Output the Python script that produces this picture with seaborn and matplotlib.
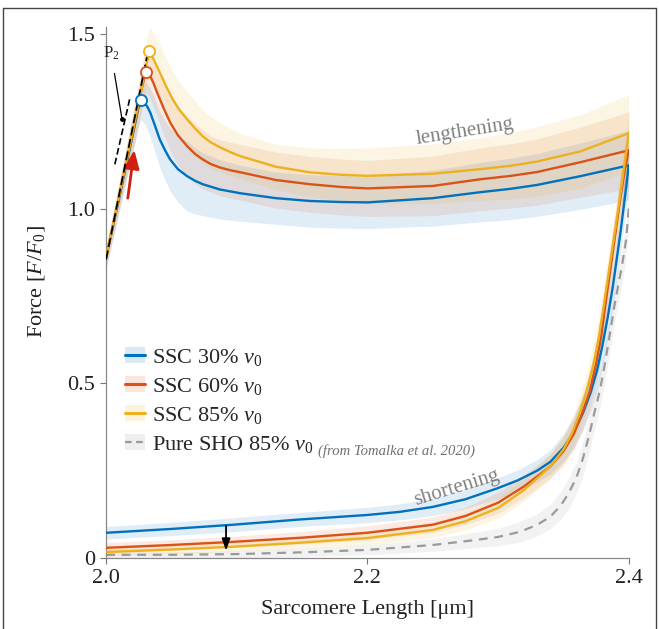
import numpy as np
import pandas as pd
import seaborn as sns
import matplotlib
matplotlib.use('Agg')
import matplotlib.pyplot as plt
from matplotlib.lines import Line2D
from matplotlib.patches import Patch

# ---- lengthening phase (sarcomere length, force) ----
blue_len_x = [2.000, 2.010, 2.018, 2.022, 2.0245, 2.0265, 2.029, 2.0315, 2.0337, 2.037, 2.041, 2.045, 2.049, 2.055, 2.062,
              2.068, 2.074, 2.087, 2.103, 2.130, 2.156, 2.180, 2.200, 2.250, 2.286, 2.310, 2.330, 2.363, 2.400]
blue_len_y = [0.86, 1.03, 1.17, 1.24, 1.285, 1.31, 1.305, 1.292, 1.276, 1.242, 1.199, 1.168, 1.141, 1.113, 1.093,
              1.080, 1.070, 1.055, 1.044, 1.030, 1.022, 1.019, 1.018, 1.030, 1.047, 1.057, 1.068, 1.093, 1.124]
blue_len_sd = [0.03, 0.04, 0.05, 0.055, 0.055, 0.055, 0.06, 0.065, 0.07, 0.075, 0.08, 0.085, 0.09, 0.095, 0.10,
               0.095, 0.09, 0.085, 0.08, 0.075, 0.075, 0.075, 0.075, 0.08, 0.085, 0.088, 0.09, 0.095, 0.10]

orange_len_x = [2.000, 2.010, 2.018, 2.024, 2.027, 2.0304, 2.033, 2.036, 2.039, 2.044, 2.049, 2.055, 2.062, 2.068, 2.074,
                2.080, 2.087, 2.095, 2.103, 2.130, 2.156, 2.180, 2.200, 2.250, 2.286, 2.310, 2.330, 2.363, 2.400]
orange_len_y = [0.86, 1.035, 1.175, 1.28, 1.34, 1.392, 1.385, 1.362, 1.333, 1.288, 1.247, 1.210, 1.179, 1.157, 1.141,
                1.128, 1.118, 1.110, 1.104, 1.082, 1.070, 1.062, 1.058, 1.065, 1.084, 1.094, 1.105, 1.133, 1.167]
orange_len_sd = [0.03, 0.04, 0.05, 0.055, 0.06, 0.06, 0.065, 0.07, 0.07, 0.075, 0.08, 0.085, 0.085, 0.085, 0.085,
                 0.08, 0.08, 0.08, 0.08, 0.08, 0.08, 0.08, 0.08, 0.085, 0.09, 0.092, 0.095, 0.10, 0.11]

yellow_len_x = [2.000, 2.010, 2.018, 2.026, 2.030, 2.0331, 2.036, 2.041, 2.046, 2.051, 2.056, 2.062, 2.068, 2.074,
                2.080, 2.087, 2.095, 2.103, 2.130, 2.156, 2.180, 2.200, 2.250, 2.286, 2.310, 2.330, 2.363, 2.400]
yellow_len_y = [0.86, 1.038, 1.18, 1.323, 1.40, 1.450, 1.430, 1.391, 1.350, 1.313, 1.283, 1.256, 1.230, 1.207,
                1.190, 1.176, 1.162, 1.150, 1.120, 1.104, 1.097, 1.094, 1.100, 1.113, 1.123, 1.135, 1.164, 1.216]
yellow_len_sd = [0.03, 0.04, 0.05, 0.06, 0.065, 0.07, 0.075, 0.08, 0.08, 0.08, 0.08, 0.08, 0.08, 0.075,
                 0.075, 0.07, 0.068, 0.065, 0.065, 0.07, 0.075, 0.08, 0.085, 0.09, 0.095, 0.10, 0.105, 0.11]

# ---- shortening phase ----
blue_sh_x = [2.000, 2.050, 2.097, 2.148, 2.200, 2.225, 2.250, 2.275, 2.300, 2.315, 2.330, 2.340, 2.350, 2.358, 2.365,
             2.371, 2.376, 2.380, 2.384, 2.388, 2.391, 2.394, 2.396, 2.398, 2.400]
blue_sh_y = [0.072, 0.083, 0.095, 0.110, 0.123, 0.132, 0.146, 0.168, 0.200, 0.222, 0.250, 0.275, 0.315, 0.360, 0.415,
             0.475, 0.540, 0.610, 0.690, 0.780, 0.860, 0.940, 1.000, 1.060, 1.124]
blue_sh_sd = [0.018, 0.019, 0.02, 0.02, 0.022, 0.023, 0.025, 0.027, 0.03, 0.03, 0.032, 0.035, 0.04, 0.045, 0.05,
              0.055, 0.06, 0.06, 0.06, 0.06, 0.06, 0.06, 0.06, 0.06, 0.06]

orange_sh_x = [2.000, 2.050, 2.097, 2.150, 2.200, 2.250, 2.275, 2.300, 2.320, 2.340, 2.350, 2.358, 2.364, 2.370,
               2.375, 2.379, 2.382, 2.385, 2.388, 2.391, 2.394, 2.397, 2.400]
orange_sh_y = [0.029, 0.037, 0.046, 0.058, 0.072, 0.095, 0.120, 0.158, 0.205, 0.262, 0.305, 0.355, 0.410, 0.475,
               0.555, 0.635, 0.720, 0.800, 0.880, 0.960, 1.040, 1.110, 1.167]
orange_sh_sd = [0.015, 0.015, 0.016, 0.018, 0.02, 0.022, 0.025, 0.03, 0.032, 0.035, 0.04, 0.045, 0.05, 0.055,
                0.06, 0.06, 0.06, 0.06, 0.06, 0.06, 0.06, 0.06, 0.06]

yellow_sh_x = [2.000, 2.050, 2.097, 2.150, 2.200, 2.250, 2.275, 2.300, 2.320, 2.340, 2.350, 2.357, 2.363, 2.368,
               2.373, 2.377, 2.380, 2.383, 2.386, 2.389, 2.392, 2.395, 2.398, 2.400]
yellow_sh_y = [0.017, 0.024, 0.032, 0.044, 0.057, 0.080, 0.105, 0.143, 0.195, 0.262, 0.310, 0.360, 0.420, 0.480,
               0.555, 0.630, 0.700, 0.775, 0.850, 0.925, 1.000, 1.080, 1.160, 1.216]
yellow_sh_sd = [0.012, 0.013, 0.014, 0.017, 0.02, 0.022, 0.025, 0.03, 0.032, 0.035, 0.04, 0.045, 0.05, 0.055,
                0.06, 0.06, 0.06, 0.06, 0.06, 0.06, 0.06, 0.06, 0.06, 0.06]

sho_x = [2.000, 2.050, 2.100, 2.150, 2.200, 2.250, 2.280, 2.300, 2.317, 2.330, 2.340, 2.348, 2.354, 2.360, 2.365,
         2.370, 2.374, 2.378, 2.382, 2.386, 2.389, 2.392, 2.395, 2.398, 2.400]
sho_y = [0.009, 0.009, 0.011, 0.016, 0.023, 0.037, 0.050, 0.060, 0.075, 0.095, 0.118, 0.150, 0.185, 0.230, 0.285,
         0.355, 0.420, 0.480, 0.560, 0.650, 0.720, 0.780, 0.840, 0.910, 1.000]
sho_sd = [0.008, 0.008, 0.01, 0.012, 0.014, 0.018, 0.022, 0.025, 0.03, 0.032, 0.035, 0.04, 0.045, 0.045, 0.05,
          0.05, 0.05, 0.05, 0.05, 0.05, 0.05, 0.05, 0.05, 0.05, 0.05]

labels = ['SSC 30% $v_\\mathit{0}$', 'SSC 60% $v_\\mathit{0}$', 'SSC 85% $v_\\mathit{0}$']
sho_label = 'Pure SHO 85% $v_\\mathit{0}$'
colors = ['#0072BD', '#D95319', '#EDB120']
sho_color = '#9a9a9a'

# annotation geometry (data units)
p2_main_x = [2.000, 2.0325]
p2_main_y = [0.855, 1.458]
p2_tan_x = [2.0067, 2.0180]
p2_tan_y = [1.127, 1.313]

sns.set_style('ticks')
plt.rcParams['font.family'] = ['Liberation Serif', 'DejaVu Serif']
plt.rcParams['mathtext.fontset'] = 'custom'
plt.rcParams['mathtext.rm'] = 'Liberation Serif'
plt.rcParams['mathtext.it'] = 'Liberation Serif:italic'

fig = plt.figure(figsize=(6.59, 6.29), dpi=100)
ax = fig.add_axes([0.161, 0.113, 0.793, 0.844])

series = [
    (blue_len_x, blue_len_y, blue_len_sd, blue_sh_x, blue_sh_y, blue_sh_sd),
    (orange_len_x, orange_len_y, orange_len_sd, orange_sh_x, orange_sh_y, orange_sh_sd),
    (yellow_len_x, yellow_len_y, yellow_len_sd, yellow_sh_x, yellow_sh_y, yellow_sh_sd),
]

# bands first
ax.fill_between(sho_x, np.array(sho_y) - sho_sd, np.array(sho_y) + sho_sd,
                color=sho_color, alpha=0.12, lw=0)
for (lx, ly, lsd, sx, sy, ssd), c in zip(series, colors):
    ly, lsd, sy, ssd = map(np.array, (ly, lsd, sy, ssd))
    ax.fill_between(lx, ly - lsd, ly + lsd, color=c, alpha=0.12, lw=0)
    ax.fill_between(sx, sy - ssd, sy + ssd, color=c, alpha=0.12, lw=0)

# dashed pure shortening
sns.lineplot(x=sho_x, y=sho_y, ax=ax, color=sho_color, lw=1.6, linestyle=(0, (4, 3)),
             sort=False, estimator=None, legend=False)

# P2 tangent (offset segment)
ax.plot(p2_tan_x, p2_tan_y, color='black', lw=1.2, ls=(0, (4, 2)), zorder=4)

for (lx, ly, lsd, sx, sy, ssd), c in zip(series, colors):
    df = pd.DataFrame({'x': list(lx) + list(sx[::-1]), 'y': list(ly) + list(sy[::-1])})
    sns.lineplot(data=df, x='x', y='y', ax=ax, color=c, lw=1.7, sort=False,
                 estimator=None, legend=False, zorder=3)

# P2 dashed line on top of the rise
ax.plot(p2_main_x, p2_main_y, color='black', lw=1.3, ls=(0, (5, 2)), zorder=5)

# peak markers
for (lx, ly, *_), c in zip(series, colors):
    i = int(np.argmax(ly))
    ax.plot(lx[i], ly[i], 'o', mfc='white', mec=c, ms=8, mew=1.3, zorder=6)

# P2 label
ax.annotate('P$_2$', xy=(2.0122, 1.256), xytext=(1.9975, 1.445),
            fontsize=12, ha='left', va='center', annotation_clip=False,
            arrowprops=dict(arrowstyle='-', color='black', lw=0.9,
                            shrinkA=6, shrinkB=0))
ax.plot(2.0122, 1.256, 'o', color='black', ms=2.5, zorder=6)

# red arrow
ax.annotate('', xy=(2.0216, 1.168), xytext=(2.0166, 1.030),
            arrowprops=dict(arrowstyle='-|>,head_length=1.1,head_width=0.45',
                            color='#d02010', lw=2.0, shrinkA=0, shrinkB=0))

# small black arrow
ax.annotate('', xy=(2.0918, 0.021), xytext=(2.0918, 0.092),
            arrowprops=dict(arrowstyle='-|>,head_length=0.7,head_width=0.25',
                            color='black', lw=1.3, shrinkA=0, shrinkB=0))

ax.text(2.2747, 1.219, 'lengthening', fontsize=15, color='#808080',
        rotation=9, ha='center', va='center', rotation_mode='anchor')
ax.text(2.2686, 0.200, 'shortening', fontsize=15, color='#808080',
        rotation=17, ha='center', va='center', rotation_mode='anchor')

# legend
handles = [(Patch(facecolor=c, alpha=0.15, lw=0), Line2D([], [], color=c, lw=2.2)) for c in colors]
handles.append((Patch(facecolor=sho_color, alpha=0.15, lw=0),
                Line2D([], [], color=sho_color, lw=1.6, ls=(0, (3, 2)))))
ax.legend(handles, labels + [sho_label], loc='upper left', bbox_to_anchor=(0.036, 0.398),
          frameon=False, fontsize=16, handlelength=0.9, handletextpad=0.3,
          labelspacing=0.36, borderpad=0, borderaxespad=0)
ax.text(2.162, 0.295, '(from Tomalka et al. 2020)', fontsize=10.5, style='italic',
        color='#707070', ha='left', va='baseline')

ax.set_xlim(2.0, 2.4)
ax.set_ylim(0, 1.52)
ax.set_xticks([2.0, 2.2, 2.4])
ax.set_xticklabels(['2.0', '2.2', '2.4'])
ax.set_yticks([0, 0.5, 1.0, 1.5])
ax.set_yticklabels(['0', '0.5', '1.0', '1.5'])
ax.tick_params(direction='out', length=4, width=0.8, color='#777777',
               labelsize=16, labelcolor='#222222', pad=4)
sns.despine(ax=ax)
for s in ['left', 'bottom']:
    ax.spines[s].set_color('#888888')
    ax.spines[s].set_linewidth(0.9)

ax.set_xlabel('Sarcomere Length [μm]', fontsize=16, color='#222222')
ax.set_ylabel('Force [$F/F_\\mathit{0}$]', fontsize=16, color='#222222')
ax.xaxis.set_label_coords(0.5, -0.079)
ax.yaxis.set_label_coords(-0.113, 0.52)

# outer frame
for xs, ys in [([0.005, 0.005], [0.0, 0.987]), ([0.005, 0.996], [0.987, 0.987]),
               ([0.996, 0.996], [0.0, 0.987])]:
    fig.add_artist(Line2D(xs, ys, transform=fig.transFigure, color='#444444', lw=1.0))

fig.savefig('out.png', dpi=100)
